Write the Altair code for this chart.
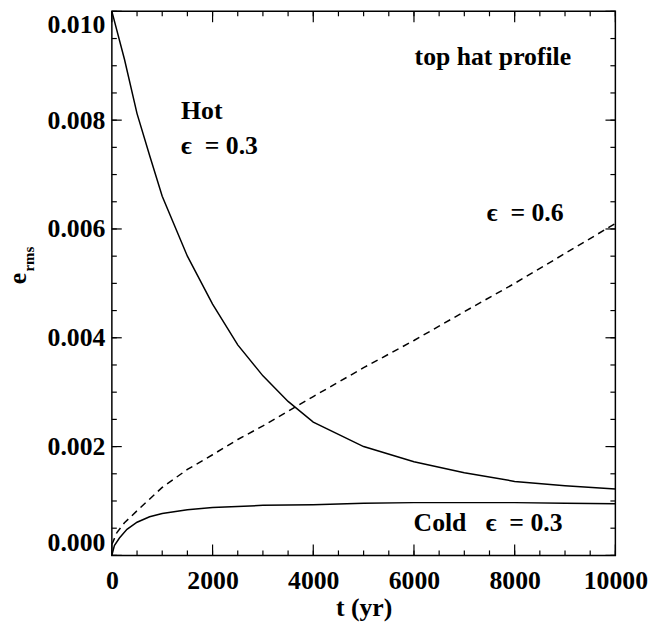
import altair as alt
import pandas as pd

# ---- data ----
hot_t = [0, 250, 500, 750, 1000, 1500, 2000, 2500, 3000, 3500, 4000, 5000, 6000, 7000, 8000, 9000, 10000]
hot_e = [0.0100, 0.00912, 0.00812, 0.00735, 0.00660, 0.00550, 0.00462, 0.00387, 0.00330, 0.00283,
         0.00245, 0.00200, 0.00172, 0.00152, 0.00136, 0.00128, 0.00122]

eps6_t = [0, 100, 250, 500, 1000, 1500, 2000, 2500, 3000, 4000, 5000, 6000, 7000, 8000, 9000, 10000]
eps6_e = [0.0002, 0.00042, 0.0006, 0.00082, 0.00125, 0.00158, 0.00185, 0.00213, 0.00238, 0.00292,
          0.00345, 0.00395, 0.00448, 0.00500, 0.00555, 0.00610]

cold_t = [0, 50, 150, 300, 500, 750, 1000, 1500, 2000, 3000, 4000, 5000, 6000, 7000, 8000, 9000, 10000]
cold_e = [0.0, 0.00018, 0.00032, 0.00048, 0.00061, 0.00071, 0.00077, 0.00084, 0.00088, 0.00092,
          0.00093, 0.00096, 0.00097, 0.00097, 0.00097, 0.00096, 0.00095]

x_major = [0, 2000, 4000, 6000, 8000, 10000]
x_minor = [v for v in range(0, 10001, 500)]
y_major = [0.0, 0.002, 0.004, 0.006, 0.008, 0.010]
y_minor = [i * 0.0005 for i in range(0, 21)]

ann_text = ["top hat profile", "Hot", "\u03f5\u00a0\u00a0=\u00a00.3", "\u03f5\u00a0\u00a0=\u00a00.6",
            "Cold\u00a0\u00a0\u00a0\u03f5\u00a0\u00a0=\u00a00.3"]
ann_t = [6012, 1375, 1375, 7446, 5992]
ann_e = [0.00902, 0.00802, 0.00738, 0.00615, 0.000455]

W, H = 509, 550
FONT = "Liberation Serif"
FS = 26

xs = alt.Scale(domain=[0, 10000], nice=False)
ys = alt.Scale(domain=[0, 0.010], nice=False)

df_hot = pd.DataFrame({"t": hot_t, "e": hot_e})
df_6 = pd.DataFrame({"t": eps6_t, "e": eps6_e})
df_cold = pd.DataFrame({"t": cold_t, "e": cold_e})

xaxis = alt.Axis(values=x_major, format="d", title="t (yr)", grid=False, ticks=False, domain=False,
                 labelFont=FONT, labelFontSize=FS, labelFontWeight="bold", labelPadding=12,
                 labelColor="black", labelFlush=False, labelOverlap=False, labelBound=False,
                 titleFont=FONT, titleFontSize=FS, titleFontWeight="bold",
                 titleColor="black", titlePadding=2)
yaxis = alt.Axis(values=y_major, format=".3f", title=None, grid=False, ticks=False, domain=False,
                 labelFont=FONT, labelFontSize=FS, labelFontWeight="bold", labelPadding=7,
                 labelColor="black", labelFlush=True)

base_hot = alt.Chart(df_hot).mark_line(color="black", strokeWidth=1.5).encode(
    x=alt.X("t:Q", scale=xs, axis=xaxis),
    y=alt.Y("e:Q", scale=ys, axis=yaxis),
)
line6 = alt.Chart(df_6).mark_line(color="black", strokeWidth=1.5, strokeDash=[7, 5]).encode(
    x=alt.X("t:Q", scale=xs), y=alt.Y("e:Q", scale=ys))
linec = alt.Chart(df_cold).mark_line(color="black", strokeWidth=1.5).encode(
    x=alt.X("t:Q", scale=xs), y=alt.Y("e:Q", scale=ys))

dxM = pd.DataFrame({"t": x_major})
dxm = pd.DataFrame({"t": x_minor})
dyM = pd.DataFrame({"e": y_major})
dym = pd.DataFrame({"e": y_minor})

def xticks(d, length):
    bot = alt.Chart(d).mark_rule(color="black", strokeWidth=1.2).encode(
        x=alt.X("t:Q", scale=xs), y=alt.value(H), y2=alt.value(H - length))
    top = alt.Chart(d).mark_rule(color="black", strokeWidth=1.2).encode(
        x=alt.X("t:Q", scale=xs), y=alt.value(0), y2=alt.value(length))
    return [bot, top]

def yticks(d, length):
    lef = alt.Chart(d).mark_rule(color="black", strokeWidth=1.2).encode(
        y=alt.Y("e:Q", scale=ys), x=alt.value(0), x2=alt.value(length))
    rig = alt.Chart(d).mark_rule(color="black", strokeWidth=1.2).encode(
        y=alt.Y("e:Q", scale=ys), x=alt.value(W), x2=alt.value(W - length))
    return [lef, rig]

ticks = xticks(dxM, 11) + xticks(dxm, 5) + yticks(dyM, 10) + yticks(dym, 5)

df_ann = pd.DataFrame({"t": ann_t, "e": ann_e, "label": ann_text})
ann = alt.Chart(df_ann).mark_text(font=FONT, fontSize=FS, fontWeight="bold", color="black",
                                  align="left", baseline="alphabetic").encode(
    x=alt.X("t:Q", scale=xs), y=alt.Y("e:Q", scale=ys), text="label:N")

ytitle_e = alt.Chart(pd.DataFrame({"s": ["e"]})).mark_text(
    font=FONT, fontSize=26, fontWeight="bold", color="black", angle=270,
    align="left", baseline="alphabetic").encode(x=alt.value(-87), y=alt.value(276), text="s:N")
ytitle_s = alt.Chart(pd.DataFrame({"s": ["rms"]})).mark_text(
    font=FONT, fontSize=15, fontWeight="bold", color="black", angle=270,
    align="left", baseline="alphabetic").encode(x=alt.value(-79), y=alt.value(263), text="s:N")

chart = alt.layer(base_hot, line6, linec, *ticks, ann, ytitle_e, ytitle_s).properties(
    width=W, height=H,
    padding={"left": 105, "top": 0, "right": 34, "bottom": 68},
    autosize=alt.AutoSizeParams(type="none"),
    background="white",
).configure_view(stroke="black", strokeWidth=1.5)

chart.save("out.html", embed_options={"renderer": "svg", "actions": False})
